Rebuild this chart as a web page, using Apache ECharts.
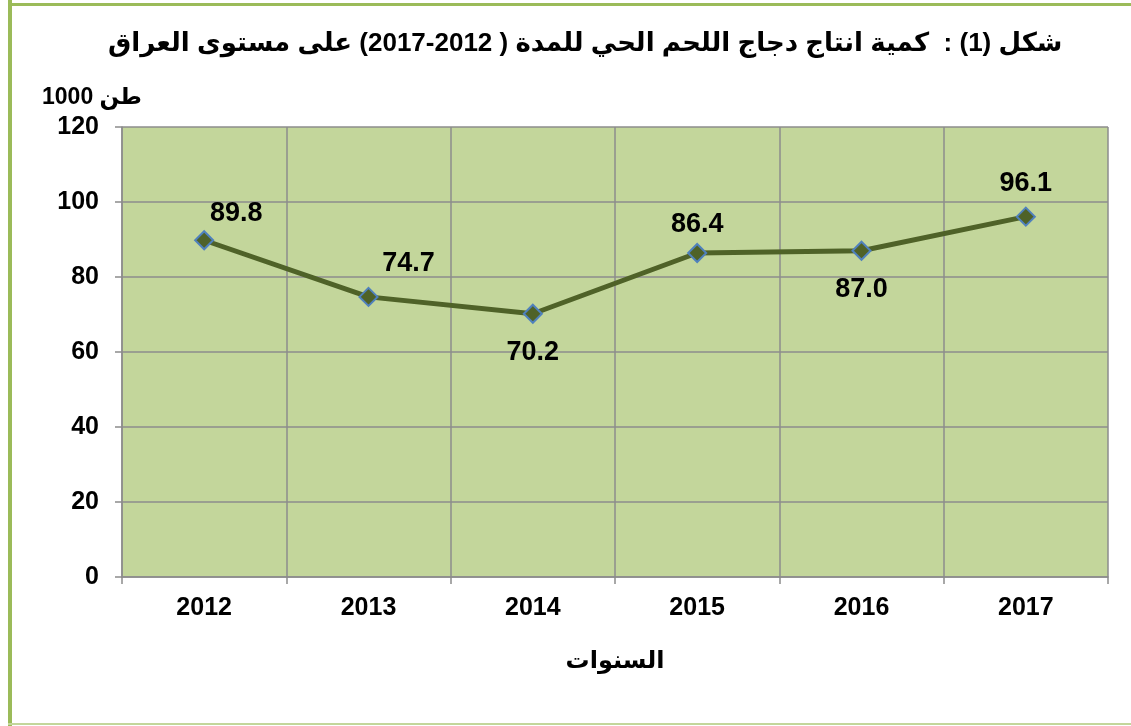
<!DOCTYPE html>
<html>
<head>
<meta charset="utf-8">
<script src="https://cdn.jsdelivr.net/npm/echarts@6/dist/echarts.min.js"></script>
<style>
  html, body { margin: 0; padding: 0; background: #fff; }
  #chart { width: 1131px; height: 726px; }
</style>
</head>
<body>
<div id="chart"></div>
<script>
// السنوات وكمية الانتاج (1000 طن)
const years = ['2012', '2013', '2014', '2015', '2016', '2017']
const production = [89.8, 74.7, 70.2, 86.4, 87.0, 96.1]
// موضع تسمية كل نقطة
const labelPlaces = ['upRight', 'upRight', 'below', 'above', 'below', 'above']
const yTicks = [0, 20, 40, 60, 80, 100, 120]

const chart = echarts.init(document.getElementById('chart'))

const fontFam = 'Liberation Sans, Arial, DejaVu Sans, sans-serif'
const gridColor = '#8c8c8c'

// اعدادات التسمية حسب الموضع
function labelFor(place, i) {
  if (place === 'upRight') return { position: 'top', offset: [i === 0 ? 32 : 40, i === 0 ? 2 : -5] }
  if (place === 'below') return { position: 'bottom', offset: [0, 10] }
  return { position: 'top', offset: [0, i === 5 ? -5 : 0] }
}

const points = production.map((v, i) => ({
  value: v,
  label: labelFor(labelPlaces[i], i)
}))

chart.setOption({
  backgroundColor: '#fff',
  animation: false,
  title: {
    text: 'شكل (1) :  كمية انتاج دجاج اللحم الحي للمدة ( 2012-2017) على مستوى العراق',
    left: 103,
    top: 26,
    textStyle: {
      fontFamily: fontFam,
      fontSize: 26,
      fontWeight: 'bold',
      color: '#000'
    }
  },
  graphic: [
    { type: 'rect', shape: { x: 8, y: 0, width: 4, height: 726 }, style: { fill: '#9bbb59' } },
    { type: 'rect', shape: { x: 8, y: 3, width: 1123, height: 3 }, style: { fill: '#9bbb59' } },
    { type: 'rect', shape: { x: 8, y: 723, width: 1123, height: 2 }, style: { fill: '#c3d69b' } }
  ],
  grid: {
    left: 122,
    right: 23,
    top: 127,
    bottom: 149,
    show: true,
    backgroundColor: '#c3d69b',
    borderWidth: 0
  },
  xAxis: {
    type: 'category',
    data: years,
    boundaryGap: true,
    name: 'السنوات',
    nameLocation: 'middle',
    nameGap: 72,
    nameTextStyle: { fontFamily: fontFam, fontSize: 24, fontWeight: 'bold', color: '#000' },
    axisLine: { lineStyle: { color: gridColor, width: 1.5 } },
    axisTick: { show: true, length: 7, lineStyle: { color: gridColor, width: 1.5 } },
    axisLabel: { fontFamily: fontFam, fontSize: 25, fontWeight: 'bold', color: '#000', margin: 19 },
    splitLine: { show: true, lineStyle: { color: gridColor, width: 1.5 } }
  },
  yAxis: {
    type: 'value',
    min: 0,
    max: 120,
    interval: 20,
    name: '1000 طن',
    nameLocation: 'end',
    nameGap: 18,
    nameTextStyle: { fontFamily: fontFam, fontSize: 23, fontWeight: 'bold', color: '#000', align: 'center', padding: [0, 60, 0, 0] },
    axisLine: { show: true, lineStyle: { color: gridColor, width: 1.5 } },
    axisTick: { show: true, length: 7, lineStyle: { color: gridColor, width: 1.5 } },
    axisLabel: {
      fontFamily: fontFam, fontSize: 25, fontWeight: 'bold', color: '#000', margin: 23,
      formatter: v => (yTicks.includes(v) ? String(v) : '')
    },
    splitLine: { show: true, lineStyle: { color: gridColor, width: 1.5 } }
  },
  series: [{
    type: 'line',
    data: points,
    symbol: 'diamond',
    symbolSize: 18,
    lineStyle: { color: '#4f6228', width: 5 },
    itemStyle: { color: '#4f6228', borderColor: '#4f81bd', borderWidth: 2 },
    label: {
      show: true,
      fontFamily: fontFam,
      fontSize: 27,
      fontWeight: 'bold',
      color: '#000',
      formatter: p => p.value.toFixed(1)
    },
    z: 5
  }]
})
</script>
</body>
</html>
